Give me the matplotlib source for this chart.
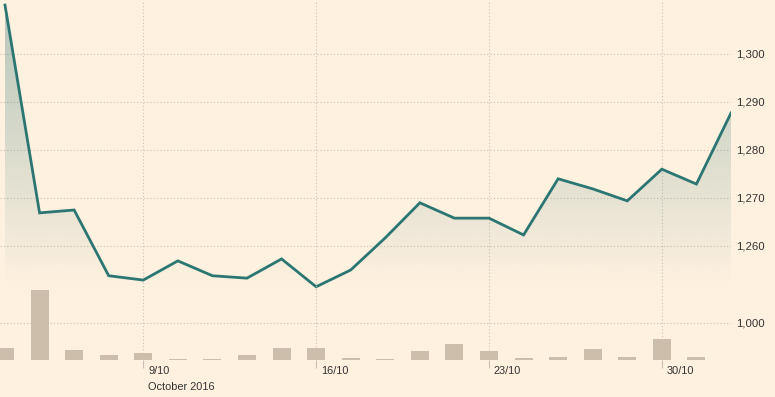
import numpy as np
import matplotlib
matplotlib.use("Agg")
import matplotlib.pyplot as plt
from matplotlib.colors import to_rgb

# ---- data ----
price = [1310.2, 1266.9, 1267.5, 1253.8, 1252.9, 1256.9, 1253.8, 1253.3, 1257.3, 1251.5,
         1255.0, 1261.7, 1269.0, 1265.8, 1265.8, 1262.3, 1274.0, 1271.9, 1269.4, 1276.0,
         1272.9, 1287.7]
volume = [320, 1890, 260, 130, 180, 30, 20, 130, 320, 320,
          45, 20, 240, 420, 240, 45, 70, 290, 70, 560,
          70, 0]
tick_idx = [4, 9, 14, 19]
tick_labels = ["9/10", "16/10", "23/10", "30/10"]
price_ticks = [1260, 1270, 1280, 1290, 1300]
vol_ticks = [1000]
month_label = "October 2016"

BG = "#FFF1E0"
LINE = "#2b7673"
BAR = "#cdbdab"
GRID = "#cbc2b8"
TXT = "#333333"

plt.rcParams['font.family'] = ['Liberation Sans', 'DejaVu Sans']

W, H = 775, 397
fig = plt.figure(figsize=(W / 100, H / 100), dpi=100, facecolor=BG)

x = np.arange(len(price))
px_per = 34.6
x_left = -5 / px_per
x_right = 21
right_frac = 731 / W

# price axes
axp = fig.add_axes([0, (H - 290) / H, right_frac, 290 / H])
axp.set_facecolor("none")
axp.set_xlim(x_left, x_right)
ylo, yhi = 1250.83, 1311.25
axp.set_ylim(ylo, yhi)

# gradient fill clipped to area under line
poly = axp.fill_between(x, price, ylo, color="none", lw=0)
teal = np.array(to_rgb(LINE))
grad = np.zeros((256, 2, 4))
grad[..., :3] = teal
alpha = np.linspace(0.0, 0.36, 256)[:, None]
grad[..., 3] = alpha
img = axp.imshow(grad, extent=[x_left, x_right, ylo, yhi], origin="lower",
                 aspect="auto", zorder=1, interpolation="bilinear")
path = poly.get_paths()[0]
img.set_clip_path(path, transform=axp.transData)

axp.plot(x, price, color=LINE, lw=2, zorder=3, solid_joinstyle="miter")

for t in price_ticks:
    axp.axhline(t, color=GRID, lw=0.8, ls=(0, (1, 2)), zorder=0)
for t in tick_idx:
    axp.axvline(t, color=GRID, lw=0.8, ls=(0, (1, 2)), zorder=0)

axp.yaxis.tick_right()
axp.set_yticks(price_ticks)
axp.set_yticklabels([f"{v:,}" for v in price_ticks], color=TXT, fontsize=8.2)
axp.tick_params(axis="y", length=0, pad=4)
axp.set_xticks([])
for s in axp.spines.values():
    s.set_visible(False)

# volume axes
vtop, vbot = 285, 360
axv = fig.add_axes([0, (H - vbot) / H, right_frac, (vbot - vtop) / H])
axv.set_facecolor("none")
axv.set_xlim(x_left, x_right)
axv.set_ylim(0, (vbot - vtop) * 1000 / 37)
axv.bar(x, volume, width=0.52, color=BAR, zorder=2)
for t in vol_ticks:
    axv.axhline(t, color=GRID, lw=0.8, ls=(0, (1, 2)), zorder=0)
for t in tick_idx:
    axv.axvline(t, color=GRID, lw=0.8, ls=(0, (1, 2)), zorder=0)
axv.yaxis.tick_right()
axv.set_yticks(vol_ticks)
axv.set_yticklabels([f"{v:,}" for v in vol_ticks], color=TXT, fontsize=8.2)
axv.tick_params(axis="y", length=0, pad=4)
axv.set_xticks(tick_idx)
axv.set_xticklabels([])
axv.tick_params(axis="x", length=6, color="#c9bfb4", width=0.8, direction="out")
for s in axv.spines.values():
    s.set_visible(False)

for t, lab in zip(tick_idx, tick_labels):
    axv.annotate(lab, xy=(t, 0), xycoords=("data", "axes fraction"),
                 xytext=(3.5, -4.5), textcoords="offset points",
                 ha="left", va="top", fontsize=7.9, color=TXT)
axv.annotate(month_label, xy=(tick_idx[0], 0), xycoords=("data", "axes fraction"),
             xytext=(3.5, -16), textcoords="offset points",
             ha="left", va="top", fontsize=7.9, color=TXT)

fig.savefig("out.png", dpi=100, facecolor=BG)
